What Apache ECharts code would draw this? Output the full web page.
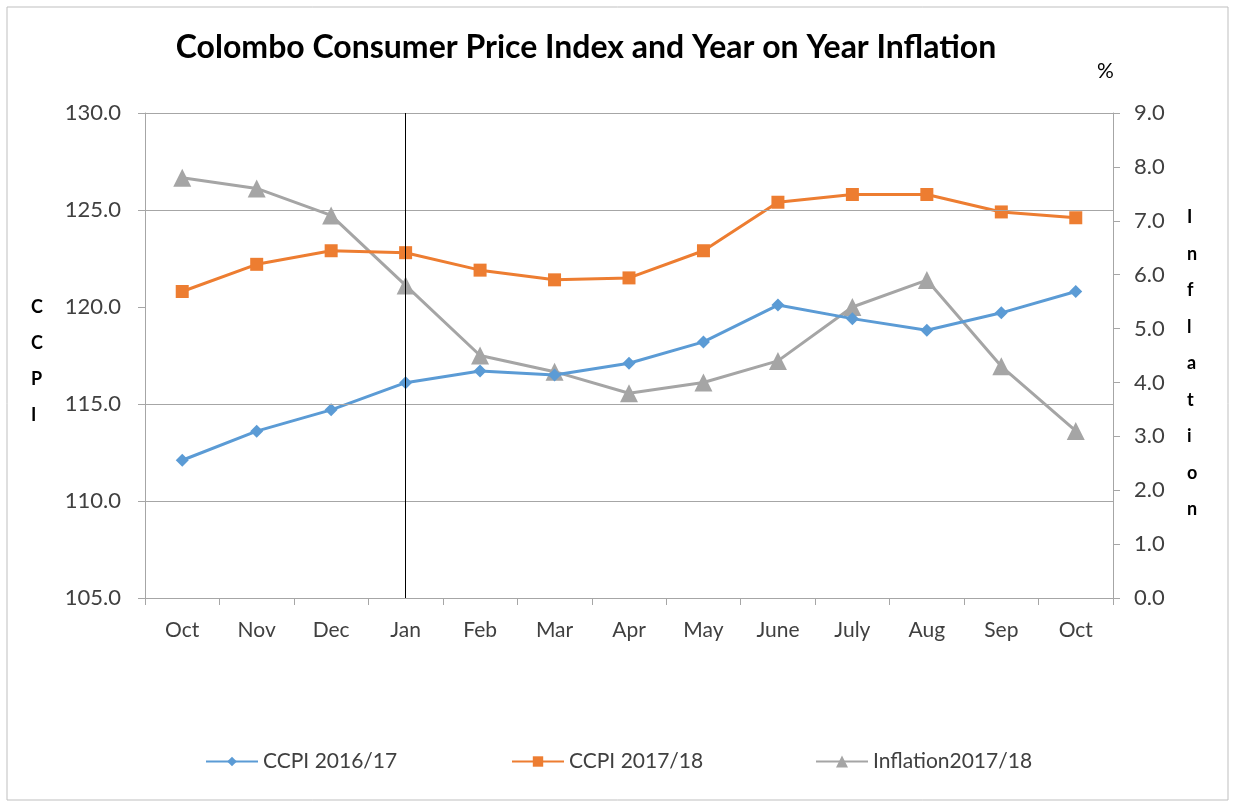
<!DOCTYPE html>
<html><head><meta charset="utf-8">
<script src="https://cdn.jsdelivr.net/npm/echarts@6/dist/echarts.min.js"></script>
<style>html,body{margin:0;padding:0;background:#fff}#c{width:1235px;height:807px}</style>
</head><body><div id="c"></div>
<script>
const categories = ['Oct','Nov','Dec','Jan','Feb','Mar','Apr','May','June','July','Aug','Sep','Oct'];
const ccpi1617 = [112.1,113.6,114.7,116.1,116.7,116.5,117.1,118.2,120.1,119.4,118.8,119.7,120.8];
const ccpi1718 = [120.8,122.2,122.9,122.8,121.9,121.4,121.5,122.9,125.4,125.8,125.8,124.9,124.6];
const inflation = [7.8,7.6,7.1,5.8,4.5,4.2,3.8,4.0,4.4,5.4,5.9,4.3,3.1];
const leftTicks = [105,130,5];
const rightTicks = [0,9,1];
const gridValues = [110,115,125,130];

const FONT = 'Lato';
const chart = echarts.init(document.getElementById('c'));
const axisCol = '#a6a6a6';
const labCol = '#404040';
const legText = {fontFamily:FONT,fontSize:21,color:labCol};
chart.setOption({
  animation:false,
  backgroundColor:'#fff',
  title:{text:'Colombo Consumer Price Index and Year on Year Inflation',left:581,top:27,textAlign:'center',
    textStyle:{fontFamily:FONT,fontSize:32,fontWeight:'bold',color:'#000'}},
  grid:{left:145,right:122,top:113,bottom:209},
  legend:[
    {data:['CCPI 2016/17'],left:205,top:751,padding:0,itemWidth:52,itemHeight:12,itemGap:0,textStyle:legText},
    {data:['CCPI 2017/18'],left:511,top:751,padding:0,itemWidth:52,itemHeight:13,itemGap:0,textStyle:legText},
    {data:['Inflation2017/18'],left:815,top:751,padding:0,itemWidth:52,itemHeight:15,itemGap:0,textStyle:legText}
  ],
  xAxis:{type:'category',data:categories,boundaryGap:true,
    axisLine:{lineStyle:{color:axisCol,width:1}},
    axisTick:{show:true,length:7,lineStyle:{color:axisCol}},
    axisLabel:{fontFamily:FONT,fontSize:21,color:labCol,margin:22}},
  yAxis:[
    {type:'value',min:leftTicks[0],max:leftTicks[1],interval:leftTicks[2],
     axisLine:{show:true,lineStyle:{color:axisCol}},
     axisTick:{show:true,length:7,lineStyle:{color:axisCol}},
     splitLine:{show:false},
     axisLabel:{fontFamily:FONT,fontSize:22,color:labCol,margin:24,formatter:v=>v.toFixed(1)}},
    {type:'value',min:rightTicks[0],max:rightTicks[1],interval:rightTicks[2],position:'right',
     axisLine:{show:true,lineStyle:{color:axisCol}},
     axisTick:{show:true,length:7,lineStyle:{color:axisCol}},
     splitLine:{show:false},
     axisLabel:{fontFamily:FONT,fontSize:22,color:labCol,margin:21,formatter:v=>v.toFixed(1)}}
  ],
  graphic:[
    {type:'rect',shape:{x:7,y:7,width:1221,height:793},style:{fill:'none',stroke:'#bfbfbf',lineWidth:1},silent:true},
    {type:'text',left:1097,top:61,style:{text:'%',fontFamily:FONT,fontSize:21,fill:'#000'}},
    {type:'text',left:31,top:289,style:{text:'C\nC\nP\nI',fontFamily:FONT,fontSize:18,fontWeight:'bold',fill:'#000',lineHeight:36,align:'center',width:18}},
    {type:'text',left:1187,top:199,style:{text:'I\nn\nf\nl\na\nt\ni\no\nn',fontFamily:FONT,fontSize:18,fontWeight:'bold',fill:'#000',lineHeight:36.5,align:'center',width:18}}
  ],
  series:[
    {name:'CCPI 2016/17',type:'line',data:ccpi1617,yAxisIndex:0,symbol:'diamond',symbolSize:13,
     lineStyle:{color:'#5B9BD5',width:3},itemStyle:{color:'#5B9BD5'},z:3,
     markLine:{silent:true,symbol:'none',label:{show:false},
       lineStyle:{color:'#a6a6a6',width:1,type:'solid'},
       data:gridValues.map(v=>({yAxis:v}))}},
    {name:'CCPI 2017/18',type:'line',data:ccpi1718,yAxisIndex:0,symbol:'rect',symbolSize:13,
     lineStyle:{color:'#ED7D31',width:3},itemStyle:{color:'#ED7D31'},z:4,
     markLine:{silent:true,symbol:'none',label:{show:false},
       lineStyle:{color:'#000',width:1,type:'solid'},
       data:[{xAxis:'Jan'}]}},
    {name:'Inflation2017/18',type:'line',data:inflation,yAxisIndex:1,symbol:'triangle',symbolSize:18,
     lineStyle:{color:'#A5A5A5',width:3},itemStyle:{color:'#A5A5A5'},z:2}
  ]
});
</script></body></html>
